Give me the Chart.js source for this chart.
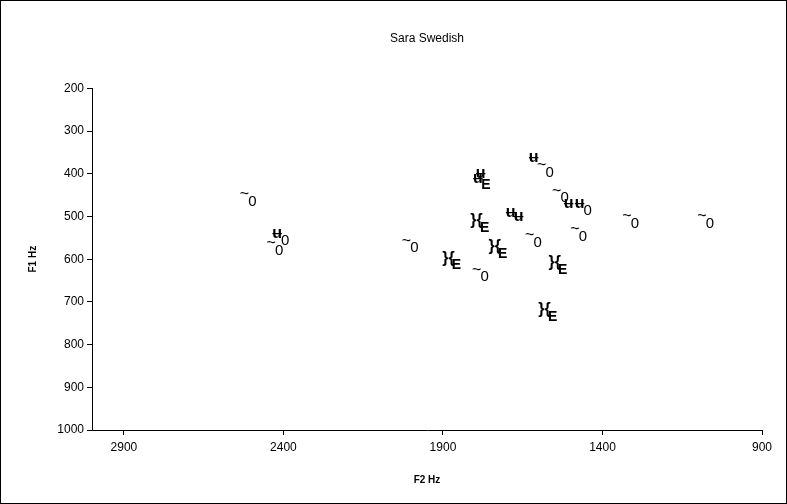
<!DOCTYPE html>
<html>
<head>
<meta charset="utf-8">
<script src="https://cdn.jsdelivr.net/npm/chart.js@4.4.1/dist/chart.umd.min.js"></script>
<style>
  html, body { margin: 0; padding: 0; background: #fff; }
  #wrap { width: 787px; height: 504px; }
</style>
</head>
<body>
<div id="wrap"><canvas id="vowelChart" width="787" height="504"></canvas></div>
<script>
// formant values (Hz)
const f2Values = [2510, 2426, 2407, 2002, 1870, 1782, 1782, 1778, 1782, 1688, 1663, 1725, 1616, 1578, 1531, 1506, 1459, 1474, 1537, 1569, 1616, 1311, 1076];
const f1Values = [458, 573, 550, 567, 607, 635, 400, 420, 520, 490, 500, 580, 362, 390, 450, 470, 480, 540, 618, 728, 555, 510, 510];
// vowel symbols as they show up on the chart: [upper-left part, lower-right part]
const vowelSymbols = [
    ['~', '0'], ['~', '0'], ['ʉ', '0'], ['~', '0'], ['}{', 'E'], ['~', '0'],
    ['ʉ', ''], ['ʉ', 'E'], ['}{', 'E'], ['ʉ', ''], ['ʉ', ''], ['}{', 'E'],
    ['ʉ', ''], ['~', '0'], ['~', '0'], ['ʉ', ''], ['ʉ', '0'], ['~', '0'],
    ['}{', 'E'], ['}{', 'E'], ['~', '0'], ['~', '0'], ['~', '0']
];
const xTickValues = [900, 1400, 1900, 2400, 2900];

const points = f2Values.map((v, i) => ({ x: v, y: f1Values[i] }));

// draw each vowel symbol where the point sits
const symbolLabels = {
    id: 'symbolLabels',
    afterDatasetsDraw(chart) {
        const ctx = chart.ctx;
        const meta = chart.getDatasetMeta(0);
        ctx.save();
        ctx.fillStyle = '#000';
        ctx.textAlign = 'center';
        ctx.textBaseline = 'middle';
        meta.data.forEach((pt, i) => {
            const [a, b] = vowelSymbols[i];
            if (!b) {
                ctx.font = 'bold 16px "Liberation Sans", Arial, sans-serif';
                ctx.fillText(a, pt.x, pt.y);
                return;
            }
            ctx.font = (a === '~' ? '' : 'bold ') + '16px "Liberation Sans", Arial, sans-serif';
            ctx.fillText(a, pt.x - 4, pt.y - 4);
            ctx.font = (b === 'E' ? 'bold 14px ' : '15px ') + '"Liberation Sans", Arial, sans-serif';
            ctx.fillText(b, pt.x + 4, pt.y + 3);
        });
        ctx.restore();
    }
};

const frame = {
    id: 'frame',
    beforeDraw(chart) {
        const ctx = chart.ctx;
        ctx.save();
        ctx.fillStyle = '#fff';
        ctx.fillRect(0, 0, chart.width, chart.height);
        ctx.restore();
    },
    afterDraw(chart) {
        const ctx = chart.ctx;
        ctx.save();
        ctx.strokeStyle = '#000';
        ctx.lineWidth = 1;
        ctx.strokeRect(0.5, 0.5, chart.width - 1, chart.height - 1);
        ctx.restore();
    }
};

const tickFont = { family: '"Liberation Sans", Arial, sans-serif', size: 12 };
const axisTitleFont = { family: '"Liberation Sans", Arial, sans-serif', size: 10, weight: 'bold' };

new Chart(document.getElementById('vowelChart'), {
    type: 'scatter',
    data: {
        datasets: [{
            data: points,
            pointRadius: 0,
            pointHoverRadius: 0,
            showLine: false
        }]
    },
    options: {
        responsive: false,
        animation: false,
        events: [],
        layout: { padding: { left: 0, right: 25, top: 0, bottom: 0 } },
        plugins: {
            legend: { display: false },
            tooltip: { enabled: false },
            title: {
                display: true,
                text: 'Sara Swedish',
                fullSize: false,
                color: '#000',
                font: { family: '"Liberation Sans", Arial, sans-serif', size: 12, weight: 'normal' },
                padding: { top: 31, bottom: 43 }
            }
        },
        scales: {
            x: {
                type: 'linear',
                reverse: true,
                min: 900,
                max: 3000,
                afterBuildTicks: (scale) => { scale.ticks = xTickValues.map(v => ({ value: v })); },
                afterFit: (scale) => { scale.height = 74; },
                grid: { drawOnChartArea: false, drawTicks: true, tickLength: 5, color: '#000' },
                border: { display: true, color: '#000', width: 1 },
                ticks: { color: '#000', font: tickFont, padding: 5, maxRotation: 0, callback: (v) => String(v) },
                title: { display: true, text: 'F2 Hz', color: '#000', font: axisTitleFont, padding: { top: 0, bottom: 18 } }
            },
            y: {
                type: 'linear',
                reverse: true,
                min: 200,
                max: 1000,
                afterFit: (scale) => { scale.width = 92; },
                grid: { drawOnChartArea: false, drawTicks: true, tickLength: 5, color: '#000' },
                border: { display: true, color: '#000', width: 1 },
                ticks: { color: '#000', font: tickFont, stepSize: 100, padding: 3, callback: (v) => String(v) },
                title: { display: true, text: 'F1 Hz', color: '#000', font: axisTitleFont, padding: { top: 27, bottom: 0 } }
            }
        }
    },
    plugins: [symbolLabels, frame]
});
</script>
</body>
</html>
